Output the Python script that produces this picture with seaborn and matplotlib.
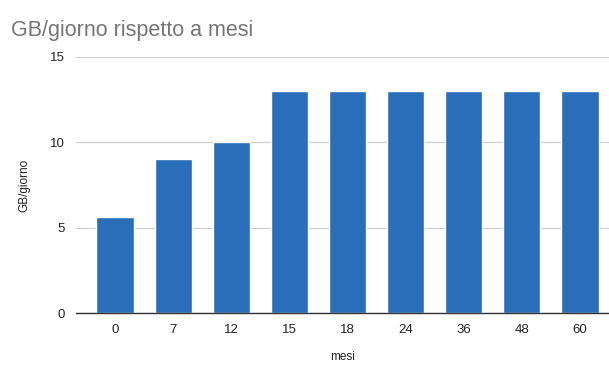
import matplotlib
matplotlib.use("Agg")
import matplotlib.pyplot as plt
import seaborn as sns
import pandas as pd

mesi = ["0", "7", "12", "15", "18", "24", "36", "48", "60"]
gb_giorno = [5.6, 9, 10, 13, 13, 13, 13, 13, 13]

sns.set_theme(style="white")
plt.rcParams["font.family"] = ["Liberation Sans", "DejaVu Sans"]

df = pd.DataFrame({"mesi": mesi, "GB/giorno": gb_giorno})

fig = plt.figure(figsize=(6.09, 3.67), dpi=100)
ax = fig.add_axes([0.125, 0.147, 0.875, 0.698])

sns.barplot(data=df, x="mesi", y="GB/giorno", order=mesi, color="#2a6db8",
            saturation=1, width=0.64, ax=ax, zorder=3)

ax.set_ylim(0, 15)
ax.set_xlim(-0.67, 8.5)
ax.set_yticks([0, 5, 10, 15])
ax.yaxis.grid(True, color="#d0d0d0", linewidth=0.9, zorder=0)
for s in ["top", "right", "left"]:
    ax.spines[s].set_visible(False)
ax.spines["bottom"].set_color("#333333")
ax.spines["bottom"].set_linewidth(1.0)
ax.spines["bottom"].set_zorder(4)
ax.tick_params(axis="both", length=0, labelsize=9.5, colors="#222222")
ax.tick_params(axis="x", pad=8)
ax.tick_params(axis="y", pad=8)

ax.set_xlabel("mesi", fontsize=8.5, color="#222222", labelpad=11)
ax.set_ylabel("GB/giorno", fontsize=8.5, color="#222222", labelpad=14)

fig.text(0.018, 0.918, "GB/giorno rispetto a mesi", fontsize=15.5,
         color="#757575", va="center", ha="left")

fig.savefig("out.png", dpi=100, facecolor="white")
